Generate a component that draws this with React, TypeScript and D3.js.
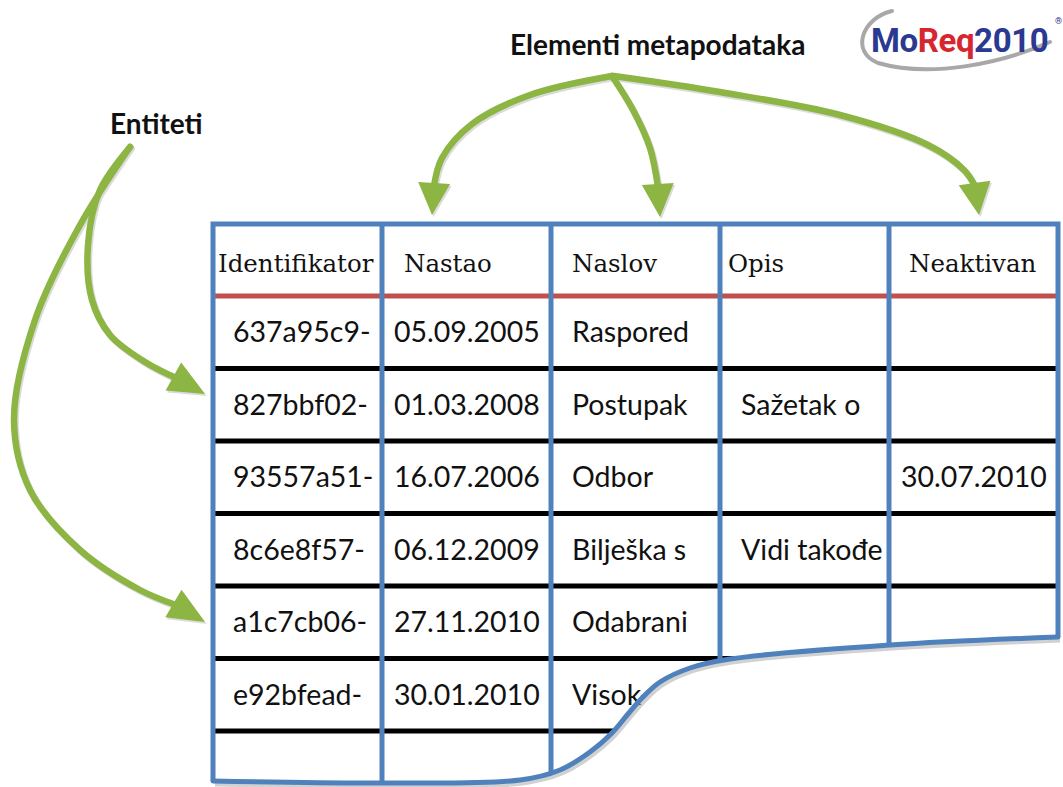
import * as d3 from "d3";
import React, { useRef, useEffect } from "react";

// table content
const headers = ["Identifikator", "Nastao", "Naslov", "Opis", "Neaktivan"];
const identifiers = ["637a95c9-", "827bbf02-", "93557a51-", "8c6e8f57-", "a1c7cb06-", "e92bfead-", ""];
const created = ["05.09.2005", "01.03.2008", "16.07.2006", "06.12.2009", "27.11.2010", "30.01.2010", ""];
const titles = ["Raspored", "Postupak", "Odbor", "Bilješka s", "Odabrani", "Visok", ""];
const descriptions = ["", "Sažetak o", "", "Vidi takođe", "", "", ""];
const inactive = ["", "", "30.07.2010", "", "", "", ""];

const columns = [identifiers, created, titles, descriptions, inactive];

// labels
const metaLabel = "Elementi metapodataka";
const entityLabel = "Entiteti";

const W = 1063;
const H = 787;
const blue = "#4f81bd";
const red = "#c0504d";
const green = "#8db543";

// layout (pixel positions of the sketch)
const headerPad = [5, 22, 21, 8, 20];
const cellPad = [20, 12, 21, 21, 12];

// torn bottom edge of the table
const tornEdge: [number, number][] = [
  [213, 781], [380, 783], [520, 780], [560, 770], [590, 752], [612, 733],
  [628, 714], [642, 698], [660, 682], [690, 668], [730, 659], [890, 645], [1058, 637],
];

// arrows: path points, then tip
const arrows: { pts: [number, number][]; tip: [number, number] }[] = [
  { pts: [[612, 76], [530, 95], [472, 124], [442, 158], [434, 186]], tip: [432, 215] },
  { pts: [[612, 76], [633, 110], [650, 148], [658, 187]], tip: [660, 217] },
  { pts: [[614, 76], [720, 92], [840, 115], [928, 145], [964, 170], [975, 186]], tip: [979, 215] },
  { pts: [[130, 147], [100, 190], [88, 245], [92, 300], [110, 335], [145, 362], [176, 378]], tip: [205, 394] },
  { pts: [[130, 147], [80, 225], [35, 320], [14, 420], [30, 490], [80, 550], [140, 590], [176, 605]], tip: [205, 622] },
];

function App() {
  const ref = useRef<any>();

  useEffect(() => {
    const svg = d3.select(ref.current);
    svg.selectAll("*").remove();

    const x = d3.scaleLinear().domain([0, 5]).range([213, 1058]);
    const y = d3.scaleLinear().domain([0, 7]).range([296, 296 + 7 * 72.5]);
    const top = 224;

    const curve = d3.line().curve(d3.curveCatmullRom.alpha(0.5));
    const edgePath = curve(tornEdge) as string;
    const backPath = (curve(tornEdge.slice().reverse()) as string).replace(/^M/, "L");

    const defs = svg.append("defs");
    defs
      .append("clipPath")
      .attr("id", "tableClip")
      .append("path")
      .attr("d", `M${x(0)},${top}L${x(5)},${top}` + backPath + "Z");

    columns.forEach((_, i) => {
      defs
        .append("clipPath")
        .attr("id", "col" + i)
        .append("rect")
        .attr("x", x(i) + 3)
        .attr("y", top)
        .attr("width", x(i + 1) - x(i) - 6)
        .attr("height", H - top);
    });

    // ---- arrows
    const arrowLine = d3.line().curve(d3.curveCatmullRom.alpha(0.5));
    const drawArrow = (g: any, a: any, color: string) => {
      g.append("path")
        .attr("d", arrowLine(a.pts))
        .attr("fill", "none")
        .attr("stroke", color)
        .attr("stroke-width", 6.5)
        .attr("stroke-linecap", "round");
      const base = a.pts[a.pts.length - 1];
      const ang = Math.atan2(a.tip[1] - base[1], a.tip[0] - base[0]);
      const half = 16;
      const nx = -Math.sin(ang) * half;
      const ny = Math.cos(ang) * half;
      const bx = base[0] - Math.cos(ang) * 3;
      const by = base[1] - Math.sin(ang) * 3;
      g.append("path")
        .attr("d", `M${bx + nx},${by + ny}L${a.tip[0]},${a.tip[1]}L${bx - nx},${by - ny}Z`)
        .attr("fill", color);
    };
    const shadowG = svg.append("g").attr("transform", "translate(1.5,2)").attr("opacity", 0.35);
    arrows.forEach((a) => drawArrow(shadowG, a, "#9a9a9a"));
    const arrowG = svg.append("g");
    arrows.forEach((a) => drawArrow(arrowG, a, green));

    // ---- table grid
    const grid = svg.append("g").attr("clip-path", "url(#tableClip)");
    d3.range(1, 7).forEach((r) => {
      grid
        .append("line")
        .attr("x1", x(0))
        .attr("x2", x(5))
        .attr("y1", y(r))
        .attr("y2", y(r))
        .attr("stroke", "#000")
        .attr("stroke-width", 5);
    });
    grid
      .append("line")
      .attr("x1", x(0))
      .attr("x2", x(5))
      .attr("y1", y(0))
      .attr("y2", y(0))
      .attr("stroke", red)
      .attr("stroke-width", 5);
    d3.range(1, 5).forEach((c) => {
      grid
        .append("line")
        .attr("x1", x(c))
        .attr("x2", x(c))
        .attr("y1", top)
        .attr("y2", H)
        .attr("stroke", blue)
        .attr("stroke-width", 5);
    });

    // ---- text
    const headG = svg.append("g");
    headers.forEach((h, i) => {
      headG
        .append("text")
        .attr("x", x(i) + headerPad[i])
        .attr("y", top + 48)
        .attr("font-family", "'DejaVu Serif', serif")
        .attr("font-size", 24.5)
        .attr("fill", "#111")
        .text(h);
    });
    columns.forEach((col, i) => {
      const g = svg.append("g").attr("clip-path", `url(#col${i})`);
      col.forEach((v, r) => {
        if (!v) return;
        g.append("text")
          .attr("x", x(i) + cellPad[i])
          .attr("y", (y(r) + y(r + 1)) / 2 + 10)
          .attr("font-family", "Lato, sans-serif")
          .attr("font-size", 28.5)
          .attr("fill", "#111")
          .text(v);
      });
    });

    // ---- outer border and torn edge
    svg
      .append("path")
      .attr("d", edgePath)
      .attr("transform", "translate(2,3)")
      .attr("fill", "none")
      .attr("stroke", "#9a9a9a")
      .attr("stroke-width", 5)
      .attr("opacity", 0.45);
    svg
      .append("path")
      .attr("d", `M${x(0)},${tornEdge[0][1]}L${x(0)},${top}L${x(5)},${top}L${x(5)},${tornEdge[tornEdge.length - 1][1]}`)
      .attr("fill", "none")
      .attr("stroke", blue)
      .attr("stroke-width", 5)
      .attr("stroke-linejoin", "miter");
    svg
      .append("path")
      .attr("d", edgePath)
      .attr("fill", "none")
      .attr("stroke", blue)
      .attr("stroke-width", 5)
      .attr("stroke-linecap", "round");

    // ---- labels
    svg
      .append("text")
      .attr("x", 510)
      .attr("y", 55)
      .attr("font-family", "Lato, sans-serif")
      .attr("font-weight", 700)
      .attr("font-size", 28)
      .attr("fill", "#111")
      .text(metaLabel);
    svg
      .append("text")
      .attr("x", 110)
      .attr("y", 134)
      .attr("font-family", "Lato, sans-serif")
      .attr("font-weight", 700)
      .attr("font-size", 28)
      .attr("fill", "#111")
      .text(entityLabel);

    // ---- logo
    const logo = svg.append("g");
    logo
      .append("path")
      .attr("d", "M892,11 C862,18 850,52 878,63 C930,78 1000,64 1050,42")
      .attr("fill", "none")
      .attr("stroke", "#a8a8a8")
      .attr("stroke-width", 4)
      .attr("stroke-linecap", "round");
    const lt = logo
      .append("text")
      .attr("x", 871)
      .attr("y", 52)
      .attr("font-family", "Roboto, sans-serif")
      .attr("font-weight", 700)
      .attr("font-size", 33)
      .attr("letter-spacing", -0.4);
    lt.append("tspan").attr("fill", "#2b3990").text("Mo");
    lt.append("tspan").attr("fill", "#d7262f").text("Req");
    lt.append("tspan").attr("fill", "#2b3990").text("2010");
    logo
      .append("text")
      .attr("x", 1055)
      .attr("y", 24)
      .attr("font-family", "Roboto, sans-serif")
      .attr("font-size", 9)
      .attr("fill", "#2b3990")
      .text("®");
  }, []);

  return (
    <div style={{ position: "absolute", left: 0, top: 0 }}>
      <svg ref={ref} width={W} height={H} style={{ display: "block", background: "#fff" }}></svg>
    </div>
  );
}

export default App;
